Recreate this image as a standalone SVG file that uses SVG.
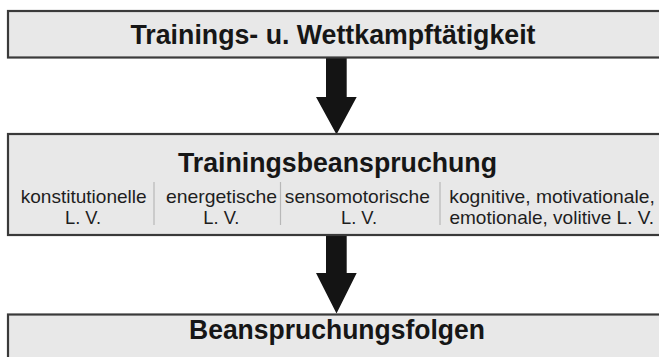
<svg xmlns="http://www.w3.org/2000/svg" width="659" height="357" viewBox="0 0 659 357">
<style>
.box{fill:#e8e8e8;stroke:#3a3a3a;stroke-width:2.2}
.title{font-family:"Liberation Sans",Arial,sans-serif;font-weight:bold;font-size:27px;fill:#161616;text-anchor:middle}
.sub{font-family:"Liberation Sans",Arial,sans-serif;font-size:18.5px;fill:#1e1e1e;text-anchor:middle}
.div{stroke:#b8b8b8;stroke-width:1.2}
.arrow{fill:#141414}
</style>
<rect width="659" height="357" fill="#ffffff"/>
<g id="connectors">
<polygon class="arrow" points="326,57 346.7,57 346.7,97 356.7,97 336.5,134.5 316,97 326,97"/>
<polygon class="arrow" points="326,235 346.7,235 346.7,273 356.7,273 336.5,313.5 316,273 326,273"/>
</g>
<g id="node-training">
<rect class="box" x="8" y="11" width="700" height="46.5"/>
<text class="title" x="333" y="43.5" textLength="405" lengthAdjust="spacingAndGlyphs">Trainings- u. Wettkampftätigkeit</text>
</g>
<g id="node-beanspruchung">
<rect class="box" x="8" y="134" width="700" height="101"/>
<text class="title" x="337.5" y="171.5" textLength="319" lengthAdjust="spacingAndGlyphs">Trainingsbeanspruchung</text>
<line class="div" x1="154" y1="182" x2="154" y2="225"/>
<line class="div" x1="280.5" y1="182" x2="280.5" y2="225"/>
<line class="div" x1="440" y1="182" x2="440" y2="225"/>
<text class="sub" x="83.7" y="202.5" textLength="126" lengthAdjust="spacingAndGlyphs">konstitutionelle</text>
<text class="sub" x="83" y="224" textLength="36" lengthAdjust="spacingAndGlyphs">L. V.</text>
<text class="sub" x="221.5" y="202.5" textLength="111" lengthAdjust="spacingAndGlyphs">energetische</text>
<text class="sub" x="221.3" y="224" textLength="36" lengthAdjust="spacingAndGlyphs">L. V.</text>
<text class="sub" x="357.3" y="202.5" textLength="145" lengthAdjust="spacingAndGlyphs">sensomotorische</text>
<text class="sub" x="359" y="224" textLength="36" lengthAdjust="spacingAndGlyphs">L. V.</text>
<text class="sub" x="552" y="202.5" textLength="205.5" lengthAdjust="spacingAndGlyphs">kognitive, motivationale,</text>
<text class="sub" x="551.7" y="224" textLength="204.5" lengthAdjust="spacingAndGlyphs">emotionale, volitive L. V.</text>
</g>
<g id="node-folgen">
<rect class="box" x="8" y="314.5" width="700" height="60"/>
<text class="title" x="337" y="338.5" textLength="296" lengthAdjust="spacingAndGlyphs">Beanspruchungsfolgen</text>
</g>
</svg>
